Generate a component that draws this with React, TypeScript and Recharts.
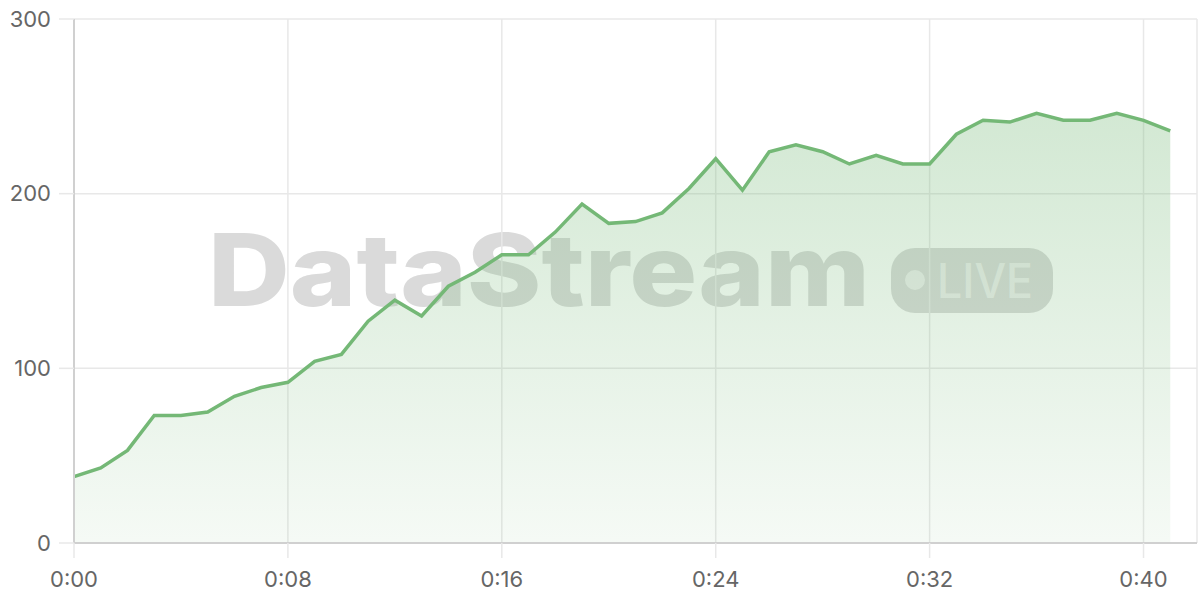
import React from 'react';
import { AreaChart, Area, XAxis, YAxis, CartesianGrid } from 'recharts';

// minutes since start, one point per minute
const minutes = [
  0, 1, 2, 3, 4, 5, 6, 7, 8, 9, 10, 11, 12, 13, 14, 15, 16, 17, 18, 19, 20,
  21, 22, 23, 24, 25, 26, 27, 28, 29, 30, 31, 32, 33, 34, 35, 36, 37, 38, 39, 40, 41,
];
const viewers = [
  38, 43, 53, 73, 73, 75, 84, 89, 92, 104, 108, 127, 139, 130, 147, 155, 165, 165, 178, 194, 183,
  184, 189, 203, 220, 202, 224, 228, 224, 217, 222, 217, 217, 234, 242, 241, 246, 242, 242, 246, 242, 236,
];
const xTicks = [0, 8, 16, 24, 32, 40];
const yTicks = [0, 100, 200, 300];

const data = minutes.map((t, i) => ({ t, value: viewers[i] }));

const fmtTime = (m: number) => `${Math.floor(m / 60)}:${String(m % 60).padStart(2, '0')}`;

const GREEN = '#74b876';
const FONT = 'Inter, "Noto Sans", sans-serif';

// big faded brand mark sitting behind the plot
const Watermark = () => (
  <svg width={1200} height={600} style={{ position: 'absolute', left: 0, top: 0 }}>
    <text
      x={208}
      y={306}
      fontFamily={FONT}
      fontWeight={800}
      fontSize={100}
      textLength={662}
      lengthAdjust="spacingAndGlyphs"
      fill="rgba(120,120,120,0.27)"
    >
      DataStream
    </text>
    <rect x={891} y={248} width={162} height={65} rx={24} fill="rgba(120,120,120,0.27)" />
    <circle cx={915} cy={280} r={10} fill="rgba(255,255,255,0.55)" />
    <text
      x={937}
      y={298}
      fontFamily={FONT}
      fontWeight={500}
      fontSize={48}
      textLength={96}
      lengthAdjust="spacingAndGlyphs"
      fill="rgba(255,255,255,0.55)"
    >
      LIVE
    </text>
  </svg>
);

export default function App() {
  return (
    <div style={{ position: 'relative', width: 1200, height: 600, background: '#fff', fontFamily: FONT }}>
      <style>{`body{margin:0}`}</style>
      <Watermark />
      <div style={{ position: 'absolute', left: 0, top: 0 }}>
        <AreaChart width={1200} height={600} data={data} margin={{ top: 19, right: 3, bottom: 0, left: 0 }}>
          <defs>
            <linearGradient id="fillGreen" x1="0" y1="0" x2="0" y2="1">
              <stop offset="0%" stopColor={GREEN} stopOpacity={0.32} />
              <stop offset="100%" stopColor={GREEN} stopOpacity={0.07} />
            </linearGradient>
          </defs>
          <CartesianGrid stroke="#e8e8e8" strokeWidth={1.5} verticalPoints={undefined} />
          <XAxis
            dataKey="t"
            type="number"
            domain={[0, 42]}
            ticks={xTicks}
            tickFormatter={fmtTime}
            height={57}
            tickSize={15}
            tickMargin={13}
            axisLine={{ stroke: '#d0d0d0', strokeWidth: 2 }}
            tickLine={{ stroke: '#e8e8e8', strokeWidth: 1.5 }}
            tick={{ fill: '#666', fontSize: 22, fontFamily: FONT }}
          />
          <YAxis
            type="number"
            domain={[0, 300]}
            ticks={yTicks}
            width={74}
            tickSize={15}
            tickMargin={8}
            axisLine={{ stroke: '#d0d0d0', strokeWidth: 2 }}
            tickLine={{ stroke: '#e8e8e8', strokeWidth: 1.5 }}
            tick={{ fill: '#666', fontSize: 22, fontFamily: FONT }}
          />
          <Area
            type="linear"
            dataKey="value"
            stroke={GREEN}
            strokeWidth={3.5}
            fill="url(#fillGreen)"
            fillOpacity={1}
            dot={false}
            activeDot={false}
            isAnimationActive={false}
          />
        </AreaChart>
      </div>
    </div>
  );
}
